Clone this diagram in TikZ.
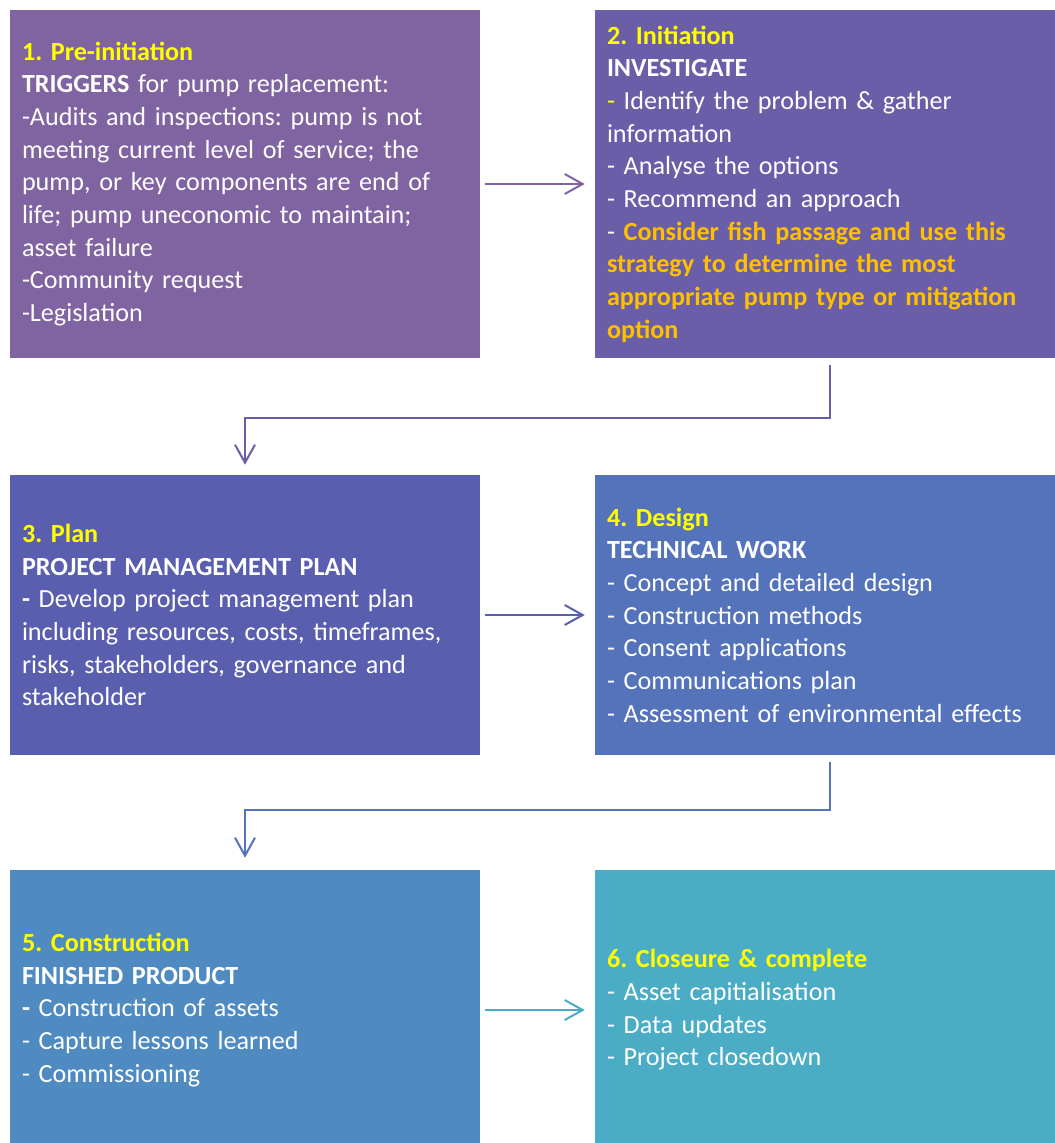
\documentclass[tikz,border=0pt]{standalone}
\usepackage{fontspec}
\setmainfont{Carlito}
\frenchspacing
\usetikzlibrary{arrows.meta}
\definecolor{cone}{HTML}{8064A2}
\definecolor{ctwo}{HTML}{6B5EA8}
\definecolor{cthree}{HTML}{5A5EAF}
\definecolor{cfour}{HTML}{5473BA}
\definecolor{cfive}{HTML}{4F8BC0}
\definecolor{csix}{HTML}{4BACC6}
\definecolor{ttl}{HTML}{FFFF00}
\definecolor{hl}{HTML}{FFC000}

\tikzstyle{box} = [draw=none,text width=334.5pt,inner xsep=9pt,inner ysep=0pt,align=left,text=white,font=\fontsize{19.6}{24.5}\selectfont]
\tikzstyle{line} = [draw,-{Straight Barb[length=13.5pt,width=15pt]},line width=1.5pt]

\begin{document}
\begin{tikzpicture}[x=0.75pt,y=-0.75pt]
\clip (0,0) rectangle (1055,1143);
\node[box,fill=cone,minimum height=261pt] (b1) at (245,184) {\textcolor{ttl}{\textbf{1. Pre-initiation}}\\
\textbf{TRIGGERS} for pump replacement:\\
-Audits and inspections: pump is not\\
meeting current level of service; the\\
pump, or key components are end of\\
life; pump uneconomic to maintain;\\
asset failure\\
-Community request\\
-Legislation};
\node[box,fill=ctwo,minimum height=261pt] (b2) at (830,184) {\textcolor{ttl}{\textbf{2. Initiation}}\\
\textbf{INVESTIGATE}\\
\textcolor{ttl}{-} Identify the problem \& gather\\
information\\
- Analyse the options\\
- Recommend an approach\\
- \textcolor{hl}{\textbf{Consider fish passage and use this}}\\
\textcolor{hl}{\textbf{strategy to determine the most}}\\
\textcolor{hl}{\textbf{appropriate pump type or mitigation}}\\
\textcolor{hl}{\textbf{option}}};
\node[box,fill=cthree,minimum height=210pt] (b3) at (245,615) {\textcolor{ttl}{\textbf{3. Plan}}\\
\textbf{PROJECT MANAGEMENT PLAN}\\
\textbf{-} Develop project management plan\\
including resources, costs, timeframes,\\
risks, stakeholders, governance and\\
stakeholder};
\node[box,fill=cfour,minimum height=210pt] (b4) at (830,615) {\textcolor{ttl}{\textbf{4. Design}}\\
\textbf{TECHNICAL WORK}\\
- Concept and detailed design\\
- Construction methods\\
- Consent applications\\
- Communications plan\\
- Assessment of environmental effects};
\node[box,fill=cfive,minimum height=210pt] (b5) at (245,1010) {\textcolor{ttl}{\textbf{5. Construction}}\\
\textbf{FINISHED PRODUCT}\\
\textbf{-} Construction of assets\\
- Capture lessons learned\\
- Commissioning};
\node[box,fill=csix,minimum height=210pt] (b6) at (830,1010) {\textcolor{ttl}{\textbf{6. Closeure \& complete}}\\
- Asset capitialisation\\
- Data updates\\
- Project closedown};
\draw[line,cone,shorten <=3.75pt,shorten >=7.5pt] (b1.east) -- (b2.west);
\draw[line,ctwo,shorten <=5.25pt,shorten >=7.5pt] (b2.south) -- ++(0,60) -| (b3.north);
\draw[line,cthree,shorten <=3.75pt,shorten >=7.5pt] (b3.east) -- (b4.west);
\draw[line,cfour,shorten <=5.25pt,shorten >=9pt] (b4.south) -- ++(0,55) -| (b5.north);
\draw[line,csix,shorten <=3.75pt,shorten >=7.5pt] (b5.east) -- (b6.west);
\end{tikzpicture}
\end{document}
